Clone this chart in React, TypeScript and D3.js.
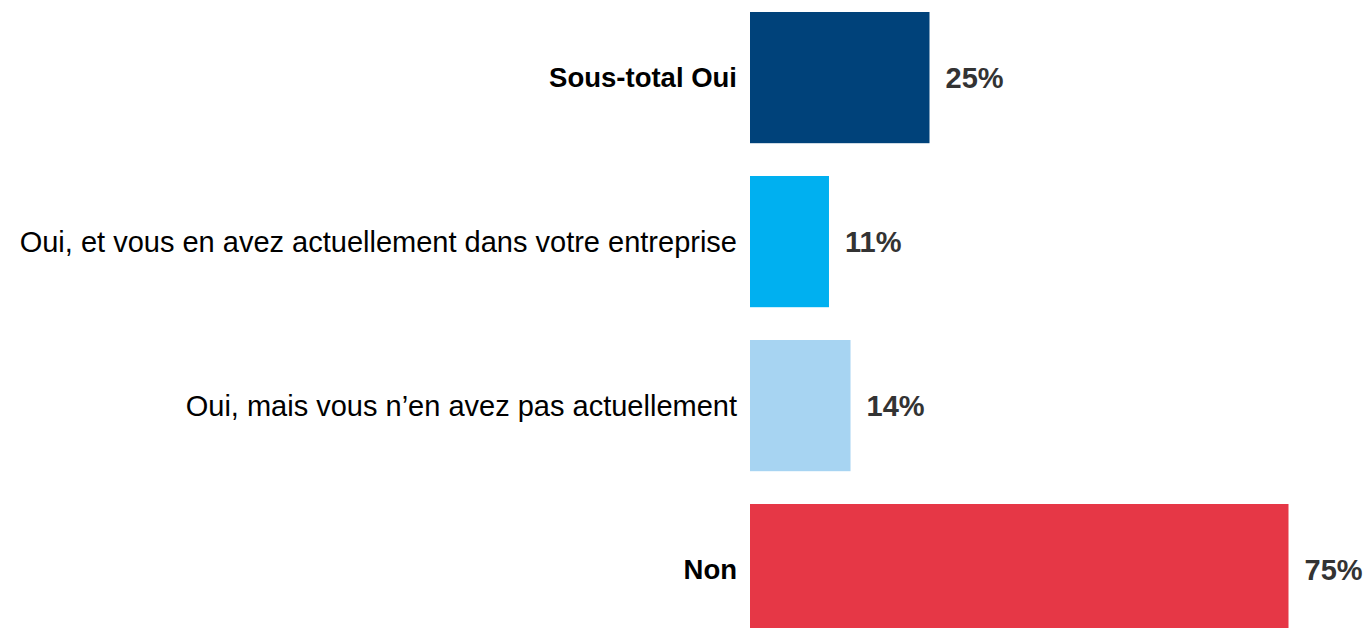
import React from "react";
import * as d3 from "d3";

const categories = [
  "Sous-total Oui",
  "Oui, et vous en avez actuellement dans votre entreprise",
  "Oui, mais vous n’en avez pas actuellement",
  "Non",
];
const values = [25, 11, 14, 75];
const colors = ["#00427A", "#00B0F0", "#A7D4F2", "#E63746"];
const boldRows = [true, false, false, true];

const width = 1370;
const height = 628;
const barLeft = 750;

const App = () => {
  const y = d3
    .scaleBand<string>()
    .domain(categories)
    .range([-4.4, 651.6])
    .paddingInner(0.2)
    .paddingOuter(0.1);

  const x = d3.scaleLinear().domain([0, 100]).range([0, 718]);

  return (
    <svg
      width={width}
      height={height}
      style={{ position: "absolute", left: 0, top: 0, background: "#fff" }}
      fontFamily="'Liberation Sans', Arial, sans-serif"
    >
      {categories.map((c, i) => {
        const y0 = y(c) ?? 0;
        const mid = y0 + y.bandwidth() / 2;
        return (
          <g key={c}>
            <rect
              x={barLeft}
              y={y0}
              width={x(values[i])}
              height={y.bandwidth()}
              fill={colors[i]}
            />
            <text
              x={737}
              y={mid}
              dy="0.35em"
              textAnchor="end"
              fontSize={boldRows[i] ? 27.5 : 29}
              fontWeight={boldRows[i] ? "bold" : "normal"}
              fill="#000"
            >
              {c}
            </text>
            <text
              x={barLeft + x(values[i]) + 16}
              y={mid}
              dy="0.35em"
              fontSize={29}
              fontWeight="bold"
              fill="#333"
            >
              {values[i]}%
            </text>
          </g>
        );
      })}
    </svg>
  );
};

export default App;
